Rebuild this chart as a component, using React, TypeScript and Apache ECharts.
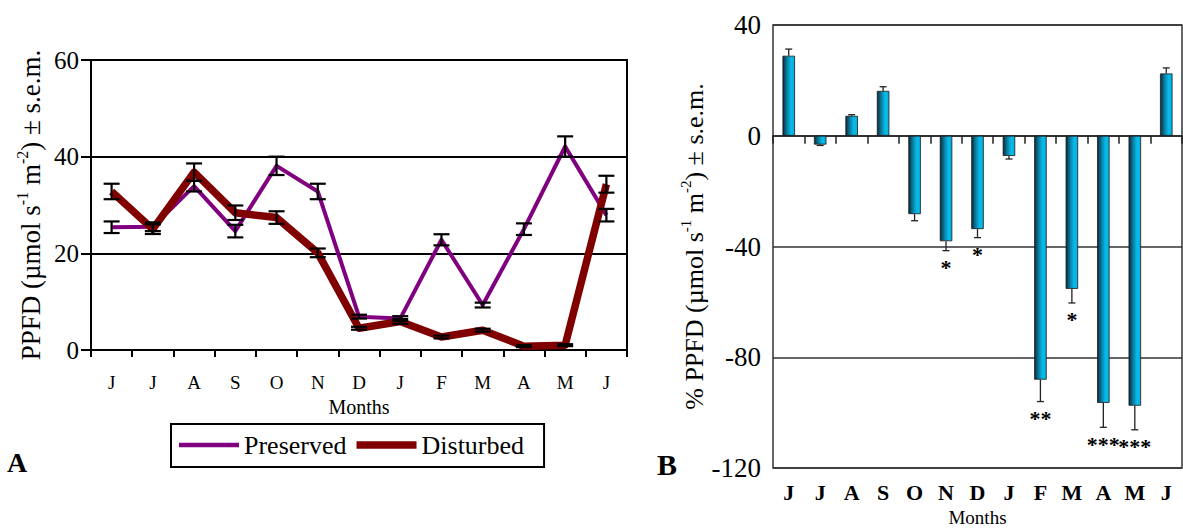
import React, { useEffect, useRef } from 'react';
import * as echarts from 'echarts';

const FONT = "'Liberation Serif','Times New Roman',serif";

const months = ['J', 'J', 'A', 'S', 'O', 'N', 'D', 'J', 'F', 'M', 'A', 'M', 'J'];

// Panel A: PPFD (µmol s-1 m-2)
const preserved = [25.4, 25.5, 33.9, 24.6, 38.1, 32.8, 6.9, 6.5, 22.8, 9.3, 25.0, 42.1, 27.9];
const preservedErr = [1.2, 0.9, 1.1, 1.3, 1.9, 1.6, 0.4, 0.5, 1.15, 0.5, 1.2, 2.1, 1.3];
const disturbed = [32.8, 25.0, 36.8, 28.4, 27.4, 20.1, 4.5, 5.9, 2.7, 4.1, 0.8, 1.0, 34.3];
const disturbedErr = [1.6, 1.0, 1.8, 1.5, 1.3, 0.9, 0.3, 0.5, 0.3, 0.3, 0.2, 0.2, 1.75];
const leftTicks = { min: 0, max: 60, interval: 20 };

// Panel B: % PPFD change
const change = [28.9, -3.2, 7.2, 16.2, -28.3, -38.1, -33.7, -7.3, -88.1, -55.3, -96.5, -97.5, 22.5];
const changeErr = [2.4, 0.3, 0.4, 1.5, 2.4, 3.4, 3.1, 1.1, 7.9, 5.1, 8.8, 8.7, 2.0];
const signif = ['', '', '', '', '', '*', '*', '', '**', '*', '***', '***', ''];
const rightTicks = { min: -120, max: 40, interval: 40 };

const titleRich = {
  a: { fontSize: 27, fontFamily: FONT, color: '#000', lineHeight: 30, verticalAlign: 'bottom' },
  s: { fontSize: 16, fontFamily: FONT, color: '#000', lineHeight: 16, verticalAlign: 'top' },
};
const titleRichB = {
  a: { fontSize: 26, fontFamily: FONT, color: '#000', lineHeight: 29, verticalAlign: 'bottom' },
  s: { fontSize: 15, fontFamily: FONT, color: '#000', lineHeight: 15, verticalAlign: 'top' },
};

function symErrRender(params: any, api: any) {
  const x = api.value(0);
  const v = api.value(1);
  const e = api.value(2);
  const t = api.coord([x, v + e]);
  const b = api.coord([x, v - e]);
  const hw = 8;
  const st = { stroke: '#000', lineWidth: 2.2 };
  return {
    type: 'group',
    children: [
      { type: 'line', shape: { x1: t[0], y1: t[1], x2: b[0], y2: b[1] }, style: st },
      { type: 'line', shape: { x1: t[0] - hw, y1: t[1], x2: t[0] + hw, y2: t[1] }, style: st },
      { type: 'line', shape: { x1: b[0] - hw, y1: b[1], x2: b[0] + hw, y2: b[1] }, style: st },
    ],
  };
}

function oneErrRender(params: any, api: any) {
  const x = api.value(0);
  const v = api.value(1);
  const e = api.value(2);
  const end = v >= 0 ? v + e : v - e;
  const p0 = api.coord([x, v]);
  const p1 = api.coord([x, end]);
  const hw = 3.5;
  const st = { stroke: '#222', lineWidth: 1.3 };
  const children: any[] = [
    { type: 'line', shape: { x1: p0[0], y1: p0[1], x2: p1[0], y2: p1[1] }, style: st },
    { type: 'line', shape: { x1: p1[0] - hw, y1: p1[1], x2: p1[0] + hw, y2: p1[1] }, style: st },
  ];
  const s = signif[params.dataIndex];
  if (s) {
    children.push({
      type: 'text',
      x: p1[0],
      y: p1[1] + 6,
      style: {
        text: s,
        fontSize: 22,
        fontWeight: 'bold',
        fontFamily: FONT,
        fill: '#000',
        align: 'center',
        verticalAlign: 'top',
      },
    });
  }
  return { type: 'group', children };
}

export default function App() {
  const ref = useRef<HTMLDivElement>(null);
  useEffect(() => {
    const chart = echarts.init(ref.current!, null, { renderer: 'svg' });
    const barColor = new echarts.graphic.LinearGradient(0, 0, 1, 0, [
      { offset: 0, color: '#0c2a36' },
      { offset: 0.35, color: '#0a7ca2' },
      { offset: 0.7, color: '#06bdeb' },
      { offset: 1, color: '#05aedd' },
    ]);
    const option: any = {
      animation: false,
      backgroundColor: '#fff',
      textStyle: { fontFamily: FONT },
      grid: [
        { left: 91, top: 60, width: 536, height: 290, show: true, borderColor: '#000', borderWidth: 2, backgroundColor: 'transparent', containLabel: false, outerBoundsMode: 'none' },
        { left: 773, top: 25, width: 409, height: 443, show: true, borderColor: '#333', borderWidth: 1.5, backgroundColor: 'transparent', containLabel: false, outerBoundsMode: 'none' },
      ],
      xAxis: [
        {
          type: 'category', gridIndex: 0, data: months, boundaryGap: true,
          axisLine: { lineStyle: { color: '#000', width: 2 } },
          axisTick: { show: true, length: 7, lineStyle: { color: '#000', width: 2 } },
          axisLabel: { color: '#000', fontSize: 19, fontFamily: FONT, margin: 23 },
          name: 'Months', nameLocation: 'middle', nameGap: 46,
          nameTextStyle: { color: '#000', fontSize: 20, fontFamily: FONT },
        },
        {
          type: 'category', gridIndex: 1, data: months, boundaryGap: true, position: 'bottom',
          axisLine: { onZero: true, lineStyle: { color: '#222', width: 1.5 } },
          axisTick: { show: true, length: 8, lineStyle: { color: '#222', width: 1.5 } },
          axisLabel: { show: false },
        },
        {
          type: 'category', gridIndex: 1, data: months, boundaryGap: true, position: 'bottom',
          axisLine: { show: false, onZero: false },
          axisTick: { show: false },
          axisLabel: { color: '#000', fontSize: 22, fontWeight: 'bold', fontFamily: FONT, margin: 13 },
          name: 'Months', nameLocation: 'middle', nameGap: 30,
          nameTextStyle: { color: '#000', fontSize: 19, fontFamily: FONT, lineHeight: 20 },
        },
      ],
      yAxis: [
        {
          type: 'value', gridIndex: 0, ...leftTicks,
          axisLine: { show: true, lineStyle: { color: '#000', width: 2 } },
          axisTick: { show: true, length: 10, lineStyle: { color: '#000', width: 2 } },
          axisLabel: { color: '#000', fontSize: 25, fontFamily: FONT, margin: 12 },
          splitLine: { show: true, lineStyle: { color: '#000', width: 2 } },
          name: '{a|PPFD (µmol s}{s|-1}{a| m}{s|-2}{a|) ± s.e.m.}',
          nameLocation: 'middle', nameGap: 47, nameRotate: 90,
          nameTextStyle: { rich: titleRich },
        },
        {
          type: 'value', gridIndex: 1, ...rightTicks,
          axisLine: { show: false },
          axisTick: { show: false },
          axisLabel: { color: '#000', fontSize: 27, fontFamily: FONT, margin: 12 },
          splitLine: { show: true, lineStyle: { color: '#333', width: 1.5 } },
          name: '{a|% PPFD (µmol s}{s|-1}{a| m}{s|-2}{a|) ± s.e.m.}',
          nameLocation: 'middle', nameGap: 66, nameRotate: 90,
          nameTextStyle: { rich: titleRichB },
        },
      ],
      legend: {
        data: [
          { name: 'Preserved', icon: 'path://M0,0h60v4.5h-60z' },
          { name: 'Disturbed', icon: 'path://M0,0h60v7.5h-60z' },
        ],
        left: 171, top: 424,
        orient: 'horizontal',
        padding: [8, 20, 9, 8],
        itemGap: 10,
        itemWidth: 60,
        itemHeight: 14,
        borderColor: '#000',
        borderWidth: 2,
        textStyle: { color: '#000', fontSize: 26, fontFamily: FONT },
      },
      graphic: [
        { type: 'text', left: 7, top: 448, style: { text: 'A', fontSize: 28, fontWeight: 'bold', fontFamily: FONT, fill: '#000' } },
        { type: 'text', left: 657, top: 449, style: { text: 'B', fontSize: 30, fontWeight: 'bold', fontFamily: FONT, fill: '#000' } },
      ],
      series: [
        {
          name: 'Preserved', type: 'line', xAxisIndex: 0, yAxisIndex: 0, data: preserved,
          symbol: 'none', lineStyle: { color: '#800080', width: 4, join: 'round' }, itemStyle: { color: '#800080' },
        },
        {
          name: 'Disturbed', type: 'line', xAxisIndex: 0, yAxisIndex: 0, data: disturbed,
          symbol: 'none', lineStyle: { color: '#800000', width: 7.5, join: 'round' }, itemStyle: { color: '#800000' },
        },
        {
          name: 'errP', type: 'custom', xAxisIndex: 0, yAxisIndex: 0, z: 5,
          data: months.map((m, i) => [i, preserved[i], preservedErr[i]]),
          encode: { x: 0, y: 1 }, renderItem: symErrRender,
        },
        {
          name: 'errD', type: 'custom', xAxisIndex: 0, yAxisIndex: 0, z: 5,
          data: months.map((m, i) => [i, disturbed[i], disturbedErr[i]]),
          encode: { x: 0, y: 1 }, renderItem: symErrRender,
        },
        {
          name: 'change', type: 'bar', xAxisIndex: 1, yAxisIndex: 1, data: change,
          barWidth: 12.5,
          itemStyle: { color: barColor, borderColor: '#1a1a1a', borderWidth: 0.8 },
        },
        {
          name: 'errB', type: 'custom', xAxisIndex: 1, yAxisIndex: 1, z: 5,
          data: months.map((m, i) => [i, change[i], changeErr[i]]),
          encode: { x: 0, y: 1 }, renderItem: oneErrRender,
        },
      ],
    };
    chart.setOption(option);
    return () => chart.dispose();
  }, []);
  return (
    <div
      ref={ref}
      style={{ position: 'absolute', left: 0, top: 0, width: 1183, height: 528, background: '#fff' }}
    />
  );
}
